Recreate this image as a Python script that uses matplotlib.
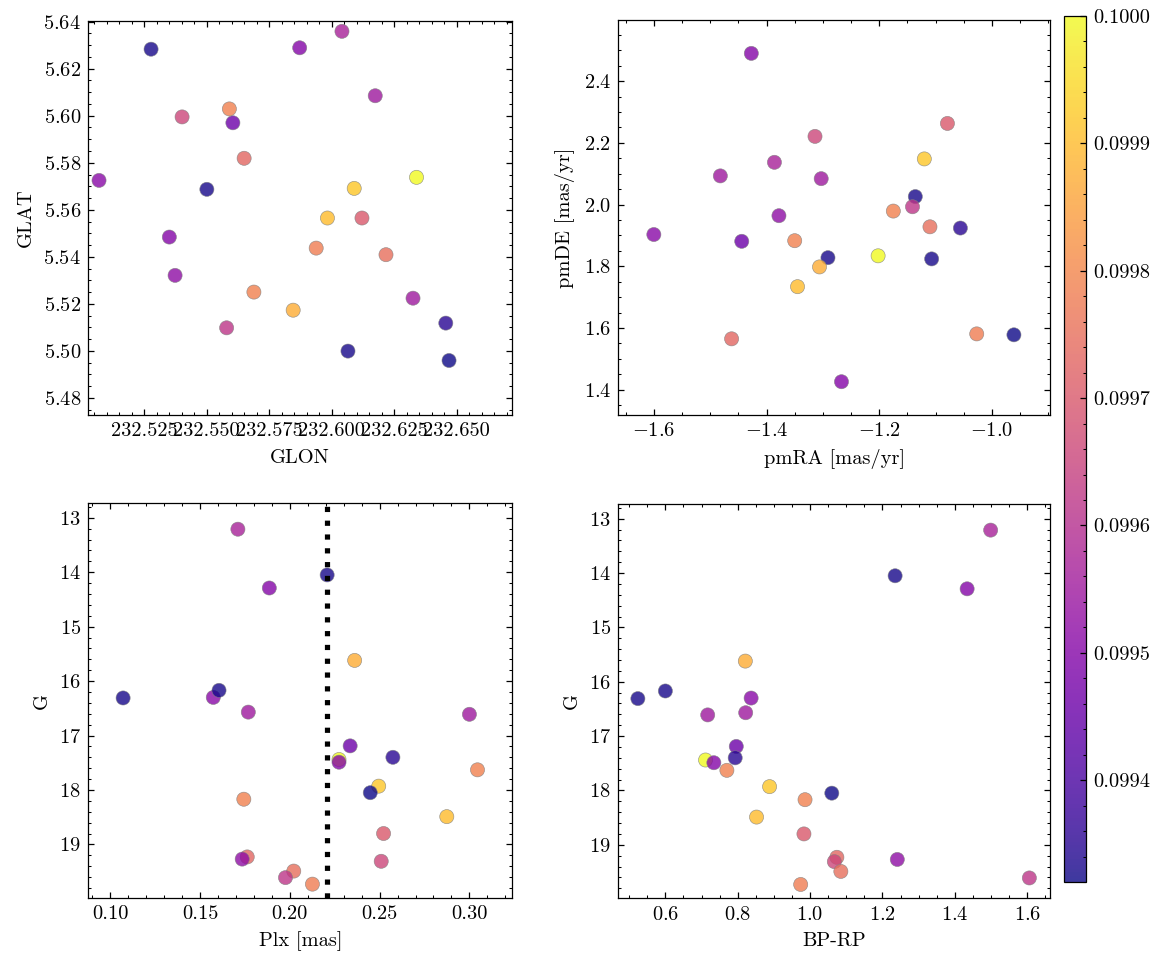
import matplotlib
matplotlib.use("Agg")
import matplotlib.pyplot as plt
import numpy as np
from matplotlib.ticker import AutoMinorLocator, FormatStrFormatter

# star values (one entry per star)
bp_rp = [1.499, 1.235, 1.434, 0.821, 0.524, 0.837, 0.600, 0.717, 0.822, 0.796,
         0.793, 0.711, 0.734, 0.770, 0.888, 1.060, 0.986, 0.852, 0.983, 1.074,
         1.067, 1.241, 1.085, 0.974, 1.606]
gmag = [13.21, 14.05, 14.29, 15.62, 16.31, 16.30, 16.17, 16.61, 16.57, 17.19,
        17.40, 17.44, 17.49, 17.63, 17.93, 18.05, 18.17, 18.49, 18.80, 19.23,
        19.31, 19.27, 19.49, 19.73, 19.61]
plx = [0.1711, 0.2208, 0.1886, 0.2361, 0.1072, 0.1574, 0.1606, 0.3000, 0.1769, 0.2336,
       0.2574, 0.2274, 0.2274, 0.3045, 0.2495, 0.2448, 0.1744, 0.2874, 0.2522, 0.1763,
       0.2509, 0.1735, 0.2022, 0.2126, 0.1976]
glon = [232.6041, 232.5278, 232.5872, 232.5846, 232.5501, 232.5070, 232.6065, 232.6174,
        232.6325, 232.5605, 232.6456, 232.6339, 232.5351, 232.5689, 232.6090, 232.6469,
        232.5591, 232.5983, 232.6121, 232.5650, 232.5402, 232.5374, 232.6217, 232.5938,
        232.5580]
glat = [5.6359, 5.6283, 5.6289, 5.5173, 5.5687, 5.5725, 5.4999, 5.6085, 5.5224, 5.5970,
        5.5118, 5.5738, 5.5484, 5.5250, 5.5691, 5.4959, 5.6029, 5.5565, 5.5565, 5.5819,
        5.5995, 5.5321, 5.5409, 5.5437, 5.5098]
pmra = [-1.386, -1.291, -1.427, -1.306, -1.136, -1.600, -1.107, -1.482, -1.303, -1.444,
        -1.056, -1.202, -1.267, -1.350, -1.120, -0.961, -1.175, -1.345, -1.079, -1.462,
        -1.314, -1.378, -1.110, -1.027, -1.141]
pmde = [2.137, 1.828, 2.490, 1.798, 2.026, 1.903, 1.824, 2.093, 2.084, 1.881,
        1.924, 1.834, 1.426, 1.883, 2.148, 1.578, 1.979, 1.734, 2.263, 1.565,
        2.221, 1.964, 1.928, 1.581, 1.993]
prob = [0.09957, 0.09933, 0.09950, 0.09987, 0.09933, 0.09951, 0.09933, 0.09955, 0.09955, 0.09946,
        0.09935, 0.10000, 0.09950, 0.09979, 0.09992, 0.09932, 0.09979, 0.09990, 0.09970, 0.09973,
        0.09966, 0.09952, 0.09975, 0.09978, 0.09962]
plx_cut = 0.2208

plt.rcParams.update({
    "font.family": "serif",
    "font.serif": ["cmr10"],
    "mathtext.fontset": "cm",
    "axes.formatter.use_mathtext": True,
    "font.size": 9.8,
    "axes.linewidth": 0.6,
    "xtick.direction": "in", "ytick.direction": "in",
    "xtick.top": True, "ytick.right": True,
    "xtick.major.size": 3, "ytick.major.size": 3,
    "xtick.minor.size": 1.5, "ytick.minor.size": 1.5,
    "xtick.major.width": 0.6, "ytick.major.width": 0.6,
    "xtick.minor.width": 0.5, "ytick.minor.width": 0.5,
    "xtick.minor.visible": True, "ytick.minor.visible": True,
})

fig = plt.figure(figsize=(1166 / 150, 965 / 150), dpi=150)
ax1 = fig.add_axes([0.0757, 0.5699, 0.3637, 0.4086])
ax2 = fig.add_axes([0.5303, 0.5699, 0.3702, 0.4090])
ax3 = fig.add_axes([0.0757, 0.0694, 0.3637, 0.4090])
ax4 = fig.add_axes([0.5303, 0.0691, 0.3702, 0.4083])
cax = fig.add_axes([0.9128, 0.0857, 0.0184, 0.8980])

kw = dict(c=prob, cmap="plasma", s=46, alpha=0.8, edgecolors="grey", linewidths=0.3,
          vmin=min(prob), vmax=max(prob))

sc = ax1.scatter(glon, glat, **kw)
ax1.set_xlim(232.5027, 232.6722)
ax1.set_ylim(5.4727, 5.6404)
ax1.set_xticks([232.525, 232.550, 232.575, 232.600, 232.625, 232.650])
ax1.xaxis.set_major_formatter(FormatStrFormatter("%.3f"))
ax1.set_xlabel("GLON")
ax1.set_ylabel("GLAT")

ax2.scatter(pmra, pmde, **kw)
ax2.set_xlim(-1.663, -0.897)
ax2.set_ylim(1.318, 2.597)
ax2.set_xlabel("pmRA [mas/yr]")
ax2.set_ylabel("pmDE [mas/yr]")

ax3.scatter(plx, gmag, **kw)
ax3.axvline(plx_cut, color="k", ls=":", lw=2.5)
ax3.set_xlim(0.0878, 0.3239)
ax3.set_ylim(19.985, 12.735)
ax3.xaxis.set_major_formatter(FormatStrFormatter("%.2f"))
ax3.set_xlabel("Plx [mas]")
ax3.set_ylabel("G")

ax4.scatter(bp_rp, gmag, **kw)
ax4.set_xlim(0.47, 1.663)
ax4.set_ylim(19.985, 12.735)
ax4.set_xlabel("BP-RP")
ax4.set_ylabel("G")

for ax in (ax1, ax2, ax3, ax4):
    ax.xaxis.set_minor_locator(AutoMinorLocator())
    ax.yaxis.set_minor_locator(AutoMinorLocator())

cb = fig.colorbar(sc, cax=cax)
cb.formatter = FormatStrFormatter("%.4f")
cb.set_ticks([0.0994, 0.0995, 0.0996, 0.0997, 0.0998, 0.0999, 0.1000])
cb.ax.yaxis.set_minor_locator(AutoMinorLocator())
cb.outline.set_linewidth(0.6)
cb.update_ticks()

plt.savefig("out.png", dpi=150)
